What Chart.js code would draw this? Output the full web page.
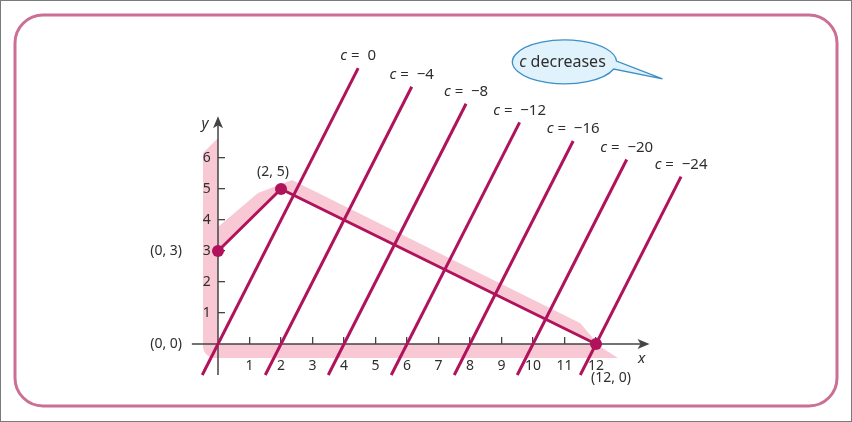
<!DOCTYPE html>
<html>
<head>
<meta charset="utf-8">
<script src="https://cdn.jsdelivr.net/npm/chart.js@4.4.0/dist/chart.umd.min.js"></script>
<style>
  html, body { margin: 0; padding: 0; background: #fff; }
  canvas { display: block; }
</style>
</head>
<body>
<canvas id="lpChart" width="852" height="422"></canvas>
<script>
// objective lines c = y - 2x, drawn between y = -1 and their top end
var cValues = [0, -4, -8, -12, -16, -20, -24];
var lineBottomY = -1;
var lineTopY = [8.9, 8.3, 7.75, 7.15, 6.55, 5.95, 5.4];

// corners of the feasible region
var cornerX = [0, 2, 12];
var cornerY = [3, 5, 0];
var cornerLabels = ['(0, 3)', '(2, 5)', '(12, 0)'];
var originLabel = '(0, 0)';

var xTicks = [1, 2, 3, 4, 5, 6, 7, 8, 9, 10, 11, 12];
var yTicks = [1, 2, 3, 4, 5, 6];
var xAxisRange = [-0.83, 13.7];
var yAxisRange = [-1, 7.35];

var calloutText = 'decreases';

var ink = '#2e2e2e';
var axisInk = '#444';
var magenta = '#b0135b';
var bandPink = '#f8c8d4';
var font = '"Noto Sans", sans-serif';

function xy(xs, ys) {
    return xs.map(function (x, i) { return { x: x, y: ys[i] }; });
}

var datasets = cValues.map(function (c, i) {
    return {
        label: 'c = ' + c,
        data: [
            { x: (lineBottomY - c) / 2, y: lineBottomY },
            { x: (lineTopY[i] - c) / 2, y: lineTopY[i] }
        ],
        showLine: true,
        borderColor: magenta,
        borderWidth: 3,
        pointRadius: 0,
        order: 1
    };
});

datasets.push({
    label: 'boundary',
    data: xy(cornerX, cornerY),
    showLine: true,
    borderColor: magenta,
    borderWidth: 3,
    pointRadius: 6,
    pointBackgroundColor: magenta,
    pointBorderWidth: 0,
    order: 2
});
datasets.push({
    label: 'x axis',
    data: [{ x: xAxisRange[0], y: 0 }, { x: xAxisRange[1] - 0.2, y: 0 }],
    showLine: true, borderColor: axisInk, borderWidth: 1.5, pointRadius: 0, order: 10
});
datasets.push({
    label: 'y axis',
    data: [{ x: 0, y: yAxisRange[0] }, { x: 0, y: yAxisRange[1] - 0.2 }],
    showLine: true, borderColor: axisInk, borderWidth: 1.5, pointRadius: 0, order: 10
});

// draws text where parts marked italic are set in italic
function mixedText(ctx, parts, x, y, align, size) {
    var w = 0;
    parts.forEach(function (p) {
        ctx.font = (p.i ? 'italic ' : '') + size + 'px ' + font;
        p.w = ctx.measureText(p.t).width;
        w += p.w;
    });
    var sx = align === 'center' ? x - w / 2 : (align === 'right' ? x - w : x);
    ctx.textAlign = 'left';
    ctx.textBaseline = 'middle';
    parts.forEach(function (p) {
        ctx.font = (p.i ? 'italic ' : '') + size + 'px ' + font;
        ctx.fillText(p.t, sx, y);
        sx += p.w;
    });
}

var decor = {
    id: 'decor',
    beforeDraw: function (chart) {
        var ctx = chart.ctx, sx = chart.scales.x, sy = chart.scales.y;
        function px(x, y) { return { x: sx.getPixelForValue(x), y: sy.getPixelForValue(y) }; }
        ctx.save();
        ctx.fillStyle = '#fff';
        ctx.fillRect(0, 0, chart.width, chart.height);
        ctx.strokeStyle = '#7a7a7a';
        ctx.lineWidth = 1;
        ctx.strokeRect(0.5, 0.5, chart.width - 1, chart.height - 1);
        ctx.strokeStyle = '#cb6f94';
        ctx.lineWidth = 3;
        ctx.beginPath();
        ctx.roundRect(15, 15, 822, 391, 28);
        ctx.stroke();

        // pink shading outside the feasible region, under the axes and labels
        var o = px(0, 0);
        var a = px(cornerX[0], cornerY[0]);
        var b = px(cornerX[1], cornerY[1]);
        var d = px(cornerX[2], cornerY[2]);
        ctx.fillStyle = bandPink;
        ctx.beginPath();
        ctx.moveTo(o.x - 15, o.y - 191);
        ctx.lineTo(o.x, o.y - 206);
        ctx.lineTo(o.x, o.y);
        ctx.lineTo(d.x, o.y);
        ctx.lineTo(d.x + 22, o.y + 14);
        ctx.arcTo(o.x - 15, o.y + 14, o.x - 15, o.y, 12);
        ctx.closePath();
        ctx.fill();
        ctx.beginPath();
        ctx.moveTo(a.x, a.y);
        ctx.lineTo(a.x, a.y - 24);
        ctx.lineTo(b.x - 23, b.y + 4);
        ctx.lineTo(b.x + 11, b.y - 9);
        ctx.lineTo(d.x - 16, d.y - 21);
        ctx.lineTo(d.x - 4, d.y - 7);
        ctx.lineTo(d.x, d.y);
        ctx.lineTo(b.x, b.y);
        ctx.closePath();
        ctx.fill();
        ctx.restore();
    },
    afterDatasetsDraw: function (chart) {
        var ctx = chart.ctx, sx = chart.scales.x, sy = chart.scales.y;
        function px(x, y) { return { x: sx.getPixelForValue(x), y: sy.getPixelForValue(y) }; }
        ctx.save();

        // arrow heads
        ctx.fillStyle = axisInk;
        var tx = px(xAxisRange[1], 0);
        ctx.beginPath();
        ctx.moveTo(tx.x, tx.y);
        ctx.lineTo(tx.x - 12, tx.y - 5);
        ctx.lineTo(tx.x - 9, tx.y);
        ctx.lineTo(tx.x - 12, tx.y + 5);
        ctx.closePath();
        ctx.fill();
        var ty = px(0, yAxisRange[1]);
        ctx.beginPath();
        ctx.moveTo(ty.x, ty.y);
        ctx.lineTo(ty.x - 5, ty.y + 12);
        ctx.lineTo(ty.x, ty.y + 9);
        ctx.lineTo(ty.x + 5, ty.y + 12);
        ctx.closePath();
        ctx.fill();

        ctx.fillStyle = ink;
        mixedText(ctx, [{ t: 'x', i: true }], tx.x - 8, tx.y + 15, 'center', 15);
        mixedText(ctx, [{ t: 'y', i: true }], ty.x - 13, ty.y + 8, 'center', 15);

        // c = ... labels at the top of each line
        cValues.forEach(function (c, i) {
            var p = px((lineTopY[i] - c) / 2, lineTopY[i]);
            var num = c === 0 ? '0' : '\u2212' + Math.abs(c);
            mixedText(ctx, [{ t: 'c', i: true }, { t: ' =  ' + num }], p.x, p.y - 12, 'center', 15);
        });

        // corner labels
        var a = px(cornerX[0], cornerY[0]);
        var b = px(cornerX[1], cornerY[1]);
        var d = px(cornerX[2], cornerY[2]);
        var o = px(0, 0);
        mixedText(ctx, [{ t: cornerLabels[0] }], a.x - 36, a.y, 'right', 14);
        mixedText(ctx, [{ t: cornerLabels[1] }], b.x - 8, b.y - 17, 'center', 14);
        mixedText(ctx, [{ t: cornerLabels[2] }], d.x + 15, d.y + 34, 'center', 14);
        mixedText(ctx, [{ t: originLabel }], o.x - 36, o.y, 'right', 14);

        // callout bubble
        var cc = px(11, 9.1);
        var rx = 52, ry = 22;
        ctx.beginPath();
        ctx.ellipse(cc.x, cc.y, rx, ry, 0, 0.33, Math.PI * 2 - 0.04);
        ctx.lineTo(cc.x + 98, cc.y + 17);
        ctx.closePath();
        ctx.fillStyle = '#e0f2fb';
        ctx.fill();
        ctx.strokeStyle = '#3d8fc6';
        ctx.lineWidth = 1.3;
        ctx.stroke();
        ctx.fillStyle = ink;
        mixedText(ctx, [{ t: 'c', i: true }, { t: ' ' + calloutText }], cc.x - 2, cc.y + 1, 'center', 16);

        ctx.restore();
    }
};

new Chart(document.getElementById('lpChart').getContext('2d'), {
    type: 'scatter',
    data: { datasets: datasets },
    options: {
        responsive: false,
        animation: false,
        layout: { padding: { left: 92, right: 67, top: 34, bottom: 16 } },
        plugins: { legend: { display: false }, tooltip: { enabled: false } },
        scales: {
            x: {
                type: 'linear',
                min: -4, max: 18,
                position: { y: 0 },
                afterBuildTicks: function (s) { s.ticks = xTicks.map(function (v) { return { value: v }; }); },
                border: { display: false },
                grid: { drawOnChartArea: false, drawTicks: true, tickLength: -7, color: axisInk, lineWidth: 1.3 },
                ticks: { color: ink, font: { family: font, size: 14 }, padding: 21, maxRotation: 0, autoSkip: false }
            },
            y: {
                type: 'linear',
                min: -2, max: 10,
                position: { x: 0 },
                afterBuildTicks: function (s) { s.ticks = yTicks.map(function (v) { return { value: v }; }); },
                border: { display: false },
                grid: { drawOnChartArea: false, drawTicks: true, tickLength: -7, color: axisInk, lineWidth: 1.3 },
                ticks: {
                    color: ink, font: { family: font, size: 14 }, autoSkip: false,
                    callback: function (v) { return v + '  '; }
                }
            }
        }
    },
    plugins: [decor]
});
</script>
</body>
</html>
